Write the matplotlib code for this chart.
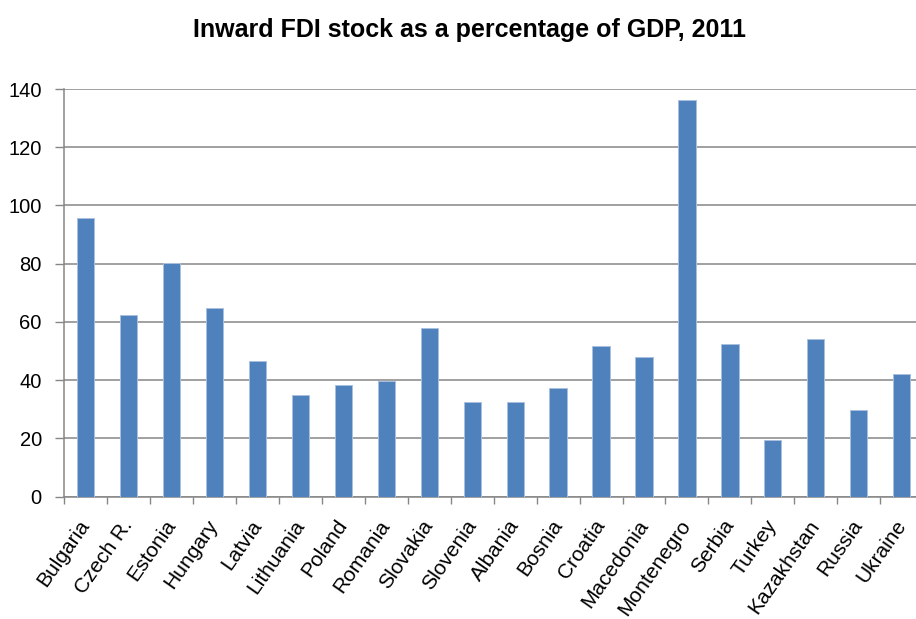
import numpy as np
import matplotlib
matplotlib.use("Agg")
from matplotlib import pyplot as plt

# Inward FDI stock, % of GDP, 2011
countries = ["Bulgaria", "Czech R.", "Estonia", "Hungary", "Latvia", "Lithuania",
             "Poland", "Romania", "Slovakia", "Slovenia", "Albania", "Bosnia",
             "Croatia", "Macedonia", "Montenegro", "Serbia", "Turkey",
             "Kazakhstan", "Russia", "Ukraine"]
fdi_share = [95.8, 62.4, 80.1, 64.7, 46.6, 34.9, 38.4, 39.7, 57.8, 32.6,
             32.4, 37.2, 51.9, 47.8, 136.1, 52.3, 19.5, 54.1, 29.7, 42.0]
y_ticks = [0, 20, 40, 60, 80, 100, 120, 140]

plt.rcParams["font.family"] = ["Liberation Sans", "DejaVu Sans"]

GRID = "#868686"
BAR = "#4F81BD"

fig = plt.figure(figsize=(9.16, 6.19), dpi=100)
# plot area runs a little past the right edge of the figure
ax = fig.add_axes([0.0699, 0.1976, 0.938, 0.6586])

x = np.arange(len(countries))
ax.bar(x, fdi_share, width=0.4, color=BAR, edgecolor="#a9c0de", linewidth=0.7, zorder=3)

ax.set_xlim(-0.5, len(countries) - 0.5)
ax.set_ylim(0, 140)
ax.set_yticks(y_ticks)
ax.yaxis.grid(True, color=GRID, linewidth=1.1, zorder=0)

# category separators as tick marks below the axis
ax.set_xticks(np.arange(len(countries) + 1) - 0.5)
ax.set_xticklabels([])
ax.tick_params(axis="x", length=5, width=1, color=GRID, direction="out")
ax.set_xticks(x, minor=True)
ax.set_xticklabels(countries, minor=True, rotation=55, ha="right", va="center",
                   rotation_mode="anchor", fontsize=15)
ax.tick_params(axis="x", which="minor", length=0, pad=18)
ax.tick_params(axis="y", length=6.5, width=1, color=GRID, pad=9.5, labelsize=14.5)

for side in ("top", "right"):
    ax.spines[side].set_visible(False)
for side in ("left", "bottom"):
    ax.spines[side].set_color(GRID)
    ax.spines[side].set_linewidth(1.1)

fig.text(0.513, 0.941, "Inward FDI stock as a percentage of GDP, 2011",
         ha="center", va="baseline", fontsize=18, fontweight="bold")

fig.savefig("out.png", dpi=100)
